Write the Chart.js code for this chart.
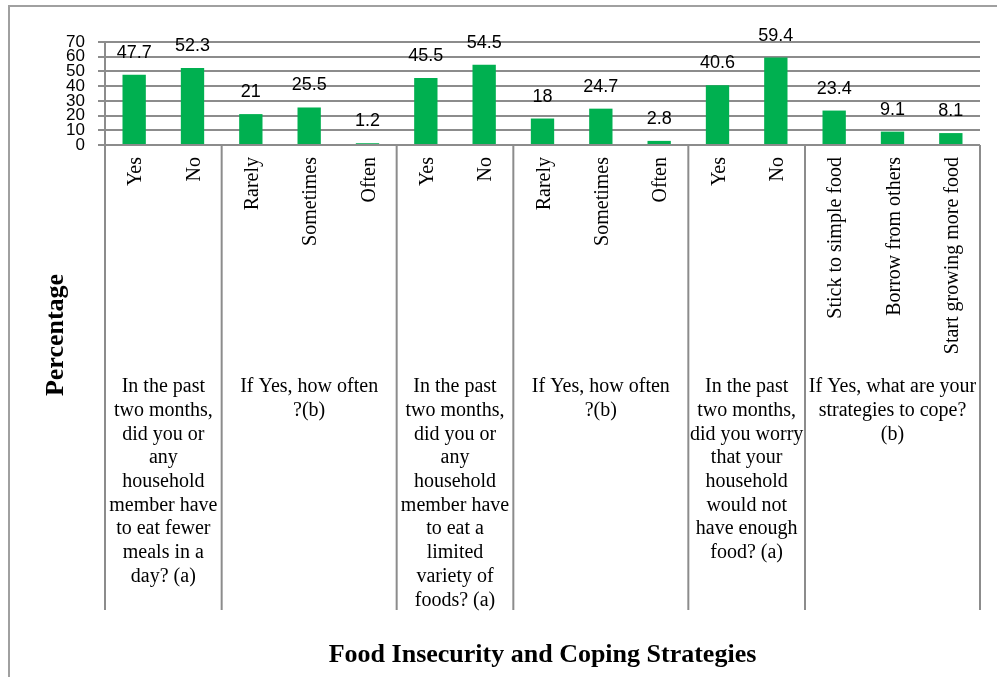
<!DOCTYPE html>
<html><head><meta charset="utf-8">
<script src="https://cdn.jsdelivr.net/npm/chart.js@4"></script>
<style>html,body{margin:0;padding:0;background:#fff;overflow:hidden}#wrap{width:997px;height:677px;position:relative}</style>
</head><body><div id="wrap"><canvas id="c" width="997" height="677"></canvas></div>
<script>
const categories = ["Yes","No","Rarely","Sometimes","Often","Yes","No","Rarely","Sometimes","Often","Yes","No","Stick to simple food","Borrow from others","Start growing more food"];
const percentages = [47.7,52.3,21,25.5,1.2,45.5,54.5,18,24.7,2.8,40.6,59.4,23.4,9.1,8.1];
const groupSizes = [2,3,2,3,2,3];
const groupLabels = [
  ["In the past","two months,","did you or","any","household","member have","to eat fewer","meals in a","day? (a)"],
  ["If Yes, how often","?(b)"],
  ["In the past","two months,","did you or","any","household","member have","to eat a","limited","variety of","foods? (a)"],
  ["If Yes, how often","?(b)"],
  ["In the past","two months,","did you worry","that your","household","would not","have enough","food? (a)"],
  ["If Yes, what are your","strategies to cope?","(b)"]
];
const yAxisTitle = "Percentage";
const xAxisTitle = "Food Insecurity and Coping Strategies";
const yMin = 0, yMax = 70, yStep = 10;

const GRID = '#8c8c8c';
const SERIF = '"Liberation Serif", "Times New Roman", serif';
const SANS = '"Liberation Sans", Arial, sans-serif';

const decor = {
  id: 'decor',
  beforeDraw(chart) {
    const ctx = chart.ctx;
    ctx.save();
    ctx.strokeStyle = '#a0a0a0';
    ctx.lineWidth = 2;
    ctx.strokeRect(9, 6, 1000, 700);
    ctx.restore();
  },
  afterDraw(chart) {
    const ctx = chart.ctx;
    const x = chart.scales.x;
    const area = chart.chartArea;
    const tableBottom = 610;
    ctx.save();
    // separators
    ctx.strokeStyle = GRID;
    ctx.lineWidth = 2;
    let idx = 0;
    const bounds = [x.getPixelForValue(-0.5)];
    groupSizes.forEach(n => { idx += n; bounds.push(x.getPixelForValue(idx - 0.5)); });
    ctx.beginPath();
    bounds.forEach((px, i) => {
      const top = i === 0 ? area.top : area.bottom;
      ctx.moveTo(px, top);
      ctx.lineTo(px, tableBottom);
    });
    ctx.stroke();
    // group labels
    ctx.fillStyle = '#000';
    ctx.font = '20px ' + SERIF;
    ctx.textAlign = 'center';
    ctx.textBaseline = 'middle';
    groupLabels.forEach((lines, g) => {
      const cx = (bounds[g] + bounds[g + 1]) / 2;
      lines.forEach((t, li) => ctx.fillText(t, cx, 387 + li * 23.7));
    });
    // data labels
    ctx.font = '18px ' + SANS;
    ctx.textBaseline = 'alphabetic';
    const meta = chart.getDatasetMeta(0);
    meta.data.forEach((bar, i) => {
      ctx.fillText(String(percentages[i]), bar.x, bar.y - 17);
    });
    // y title
    ctx.font = 'bold 26px ' + SERIF;
    ctx.textBaseline = 'middle';
    ctx.translate(56, 335);
    ctx.rotate(-Math.PI / 2);
    ctx.fillText(yAxisTitle, 0, 0);
    ctx.restore();
  }
};

new Chart(document.getElementById('c'), {
  type: 'bar',
  data: {
    labels: categories,
    datasets: [{ data: percentages, backgroundColor: '#00b050', borderWidth: 0, barPercentage: 0.4, categoryPercentage: 1.0 }]
  },
  options: {
    responsive: false,
    animation: false,
    devicePixelRatio: 1,
    layout: { padding: { top: 42, right: 17, bottom: 0, left: 0 } },
    plugins: { legend: { display: false }, tooltip: { enabled: false } },
    scales: {
      x: {
        offset: true,
        grid: { display: false, drawTicks: false },
        border: { display: false },
        ticks: { minRotation: 90, maxRotation: 90, autoSkip: false, padding: 12, labelOffset: 2, color: '#000', font: { family: SERIF, size: 20 } },
        title: { display: true, text: xAxisTitle, color: '#000', font: { family: SERIF, size: 26, weight: 'bold' }, padding: { top: 0, bottom: 6 } },
        afterFit(s) { s.height = 532; }
      },
      y: {
        min: yMin, max: yMax,
        ticks: { stepSize: yStep, autoSkip: false, padding: 13, color: '#000', font: { family: SANS, size: 17 } },
        grid: { color: GRID, lineWidth: 2, tickLength: 7 },
        border: { display: true, color: GRID, width: 2 },
        afterFit(s) { s.width = 105; }
      }
    }
  },
  plugins: [decor]
});
</script></body></html>
